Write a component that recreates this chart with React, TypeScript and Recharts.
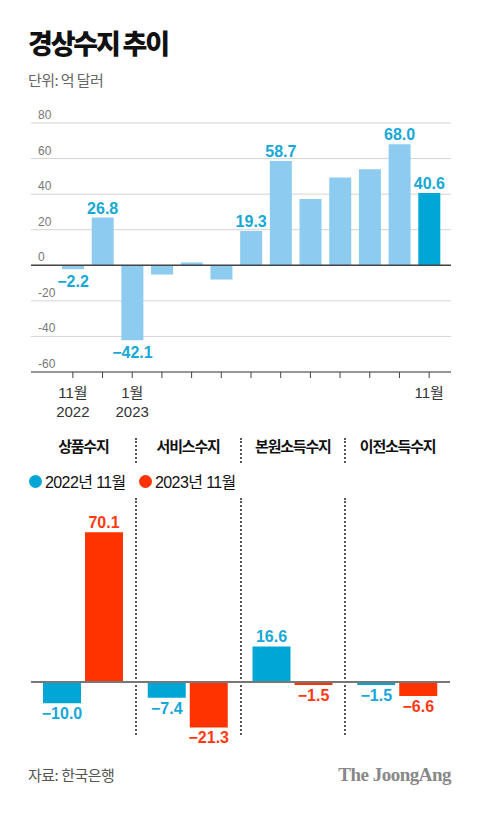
import { BarChart, Bar, XAxis, YAxis, CartesianGrid, ReferenceLine, Cell, LabelList } from "recharts";

// 경상수지 (억 달러), 2022.11 ~ 2023.11
const MONTHS = [
  "2022.11", "2022.12", "2023.01", "2023.02", "2023.03", "2023.04", "2023.05",
  "2023.06", "2023.07", "2023.08", "2023.09", "2023.10", "2023.11",
];
const MONTH_TICKS = ["11월", "", "1월", "", "", "", "", "", "", "", "", "", "11월"];
const YEAR_TICKS = ["2022", "", "2023", "", "", "", "", "", "", "", "", "", ""];
const BALANCE = [-2.2, 26.8, -42.1, -5.2, 1.6, -8.0, 19.3, 58.7, 37.3, 49.4, 54.0, 68.0, 40.6];
const LABELED = [true, true, true, false, false, false, true, true, false, false, false, true, true];
const Y_TICKS = [-60, -40, -20, 0, 20, 40, 60, 80];

// 항목별 수지
const ITEMS = ["상품수지", "서비스수지", "본원소득수지", "이전소득수지"];
const SERIES_NAMES = ["2022년 11월", "2023년 11월"];
const NOV_2022 = [-10.0, -7.4, 16.6, -1.5];
const NOV_2023 = [70.1, -21.3, -1.5, -6.6];

const KR = '"Noto Sans CJK KR", sans-serif';
const NUM = '"Liberation Sans", "Noto Sans CJK KR", sans-serif';

const LIGHT_BLUE = "#8ecbf0";
const DARK_BLUE = "#00a6d6";
const LABEL_BLUE = "#16a8d6";
const RED = "#ff3300";
const LABEL_RED = "#ff3a12";

const PLOT_LEFT = 31;
const BOTTOM_TOP = 500;
const BOTTOM_PLOT_W = 419;

const fmt = (v: number) => (v < 0 ? "−" + Math.abs(v).toFixed(1) : v.toFixed(1));

const topData = MONTHS.map((m, i) => ({ month: m, value: BALANCE[i] }));
const itemData = ITEMS.map((name, i) => ({ name, a: NOV_2022[i], b: NOV_2023[i] }));

function renderYTick(props: any) {
  const { y, payload } = props;
  return (
    <text x={PLOT_LEFT + 7} y={y - 4} fontSize={12} fill="#777" fontFamily={NUM}>
      {payload.value}
    </text>
  );
}

function renderMonthTick(props: any) {
  const { x, y, payload } = props;
  const i = MONTHS.indexOf(payload.value);
  return (
    <g fontFamily={NUM} fontSize={15} fill="#333" textAnchor="middle">
      <text x={x} y={y + 18}>{MONTH_TICKS[i]}</text>
      <text x={x} y={y + 37}>{YEAR_TICKS[i]}</text>
    </g>
  );
}

function makeLabel(color: string, show: (i: number) => boolean, above: number, below: number) {
  return (props: any) => {
    const { x, y, width, height, value, index } = props;
    if (!show(index)) return null;
    const top = Math.min(y, y + height);
    const bottom = Math.max(y, y + height);
    const ty = value >= 0 ? top - above : bottom + below;
    return (
      <text x={x + width / 2} y={ty} textAnchor="middle" fontSize={16} fontWeight="bold" fill={color} fontFamily={NUM}>
        {fmt(value)}
      </text>
    );
  };
}

const abs = (top: number, left: number, extra: any = {}) => ({ position: "absolute" as const, top, left, ...extra });

export default function App() {
  const band = BOTTOM_PLOT_W / ITEMS.length;
  return (
    <div style={{ position: "absolute", left: 0, top: 0, width: 480, height: 813, background: "#fff", fontFamily: KR }}>
      <div style={abs(28, 28, { fontSize: 27, fontWeight: 900, letterSpacing: -2.2, lineHeight: "30px", color: "#111" })}>
        경상수지 추이
      </div>
      <div style={abs(71, 28, { fontSize: 15, letterSpacing: -0.6, lineHeight: "18px", color: "#666" })}>
        단위: 억 달러
      </div>

      <div style={abs(0, 0)}>
        <BarChart width={480} height={430} data={topData} margin={{ top: 123, right: 29, bottom: 0, left: 1 }}>
          <CartesianGrid horizontal vertical={false} stroke="#d4d4d4" />
          <YAxis
            width={30}
            domain={[-60, 80]}
            ticks={Y_TICKS}
            interval={0}
            axisLine={false}
            tickLine={false}
            tick={renderYTick}
            allowDataOverflow
          />
          <XAxis
            dataKey="month"
            height={58}
            interval={0}
            padding={{ left: 27, right: 7 }}
            axisLine={{ stroke: "#444" }}
            tickLine={{ stroke: "#444" }}
            tickSize={6}
            tick={renderMonthTick}
          />
          <ReferenceLine y={0} stroke="#444" strokeWidth={1.5} />
          <Bar dataKey="value" barSize={22} isAnimationActive={false}>
            {topData.map((_, i) => (
              <Cell key={i} fill={i === topData.length - 1 ? DARK_BLUE : LIGHT_BLUE} />
            ))}
            <LabelList dataKey="value" content={makeLabel(LABEL_BLUE, (i) => LABELED[i], 4, 18)} />
          </Bar>
        </BarChart>
      </div>

      {ITEMS.map((name, i) => (
        <div
          key={name}
          style={abs(436, PLOT_LEFT + band * i, {
            width: band,
            textAlign: "center",
            fontSize: 15,
            fontWeight: "bold",
            letterSpacing: -1.2,
            lineHeight: "20px",
            color: "#111",
          })}
        >
          {name}
        </div>
      ))}
      {[1, 2, 3].map((i) => (
        <div key={i}>
          <div style={abs(438, PLOT_LEFT + band * i - 1, { height: 25, borderLeft: "2px dotted #555" })} />
          <div style={abs(498, PLOT_LEFT + band * i - 1, { height: 237, borderLeft: "2px dotted #555" })} />
        </div>
      ))}

      {SERIES_NAMES.map((name, i) => (
        <div key={name} style={abs(471, i === 0 ? 29 : 139, { display: "flex", alignItems: "center", height: 20 })}>
          <span
            style={{
              display: "inline-block",
              width: 13,
              height: 13,
              borderRadius: "50%",
              background: i === 0 ? DARK_BLUE : RED,
              marginRight: 3,
            }}
          />
          <span style={{ fontFamily: NUM, fontSize: 16, letterSpacing: -0.6, color: "#111" }}>{name}</span>
        </div>
      ))}

      <div style={abs(BOTTOM_TOP, 0)}>
        <BarChart
          width={480}
          height={260}
          data={itemData}
          margin={{ top: 11, right: 30, bottom: 14, left: PLOT_LEFT }}
          barCategoryGap={12}
          barGap={4}
        >
          <XAxis dataKey="name" hide />
          <YAxis domain={[-30, 80]} hide allowDataOverflow />
          <Bar dataKey="a" fill={DARK_BLUE} isAnimationActive={false}>
            <LabelList dataKey="a" content={makeLabel(LABEL_BLUE, () => true, 4, 16)} />
          </Bar>
          <Bar dataKey="b" fill={RED} isAnimationActive={false}>
            <LabelList dataKey="b" content={makeLabel(LABEL_RED, () => true, 4, 16)} />
          </Bar>
          <ReferenceLine y={0} stroke="#777" strokeWidth={2} />
        </BarChart>
      </div>

      <div style={abs(765, 28, { fontSize: 15, letterSpacing: -0.5, lineHeight: "20px", color: "#555" })}>
        자료: 한국은행
      </div>
      <div
        style={abs(764, 0, {
          width: 451,
          textAlign: "right",
          fontFamily: '"Liberation Serif", "DejaVu Serif", serif',
          fontWeight: "bold",
          fontSize: 19,
          letterSpacing: -0.5,
          lineHeight: "22px",
          color: "#888",
        })}
      >
        The JoongAng
      </div>
    </div>
  );
}
